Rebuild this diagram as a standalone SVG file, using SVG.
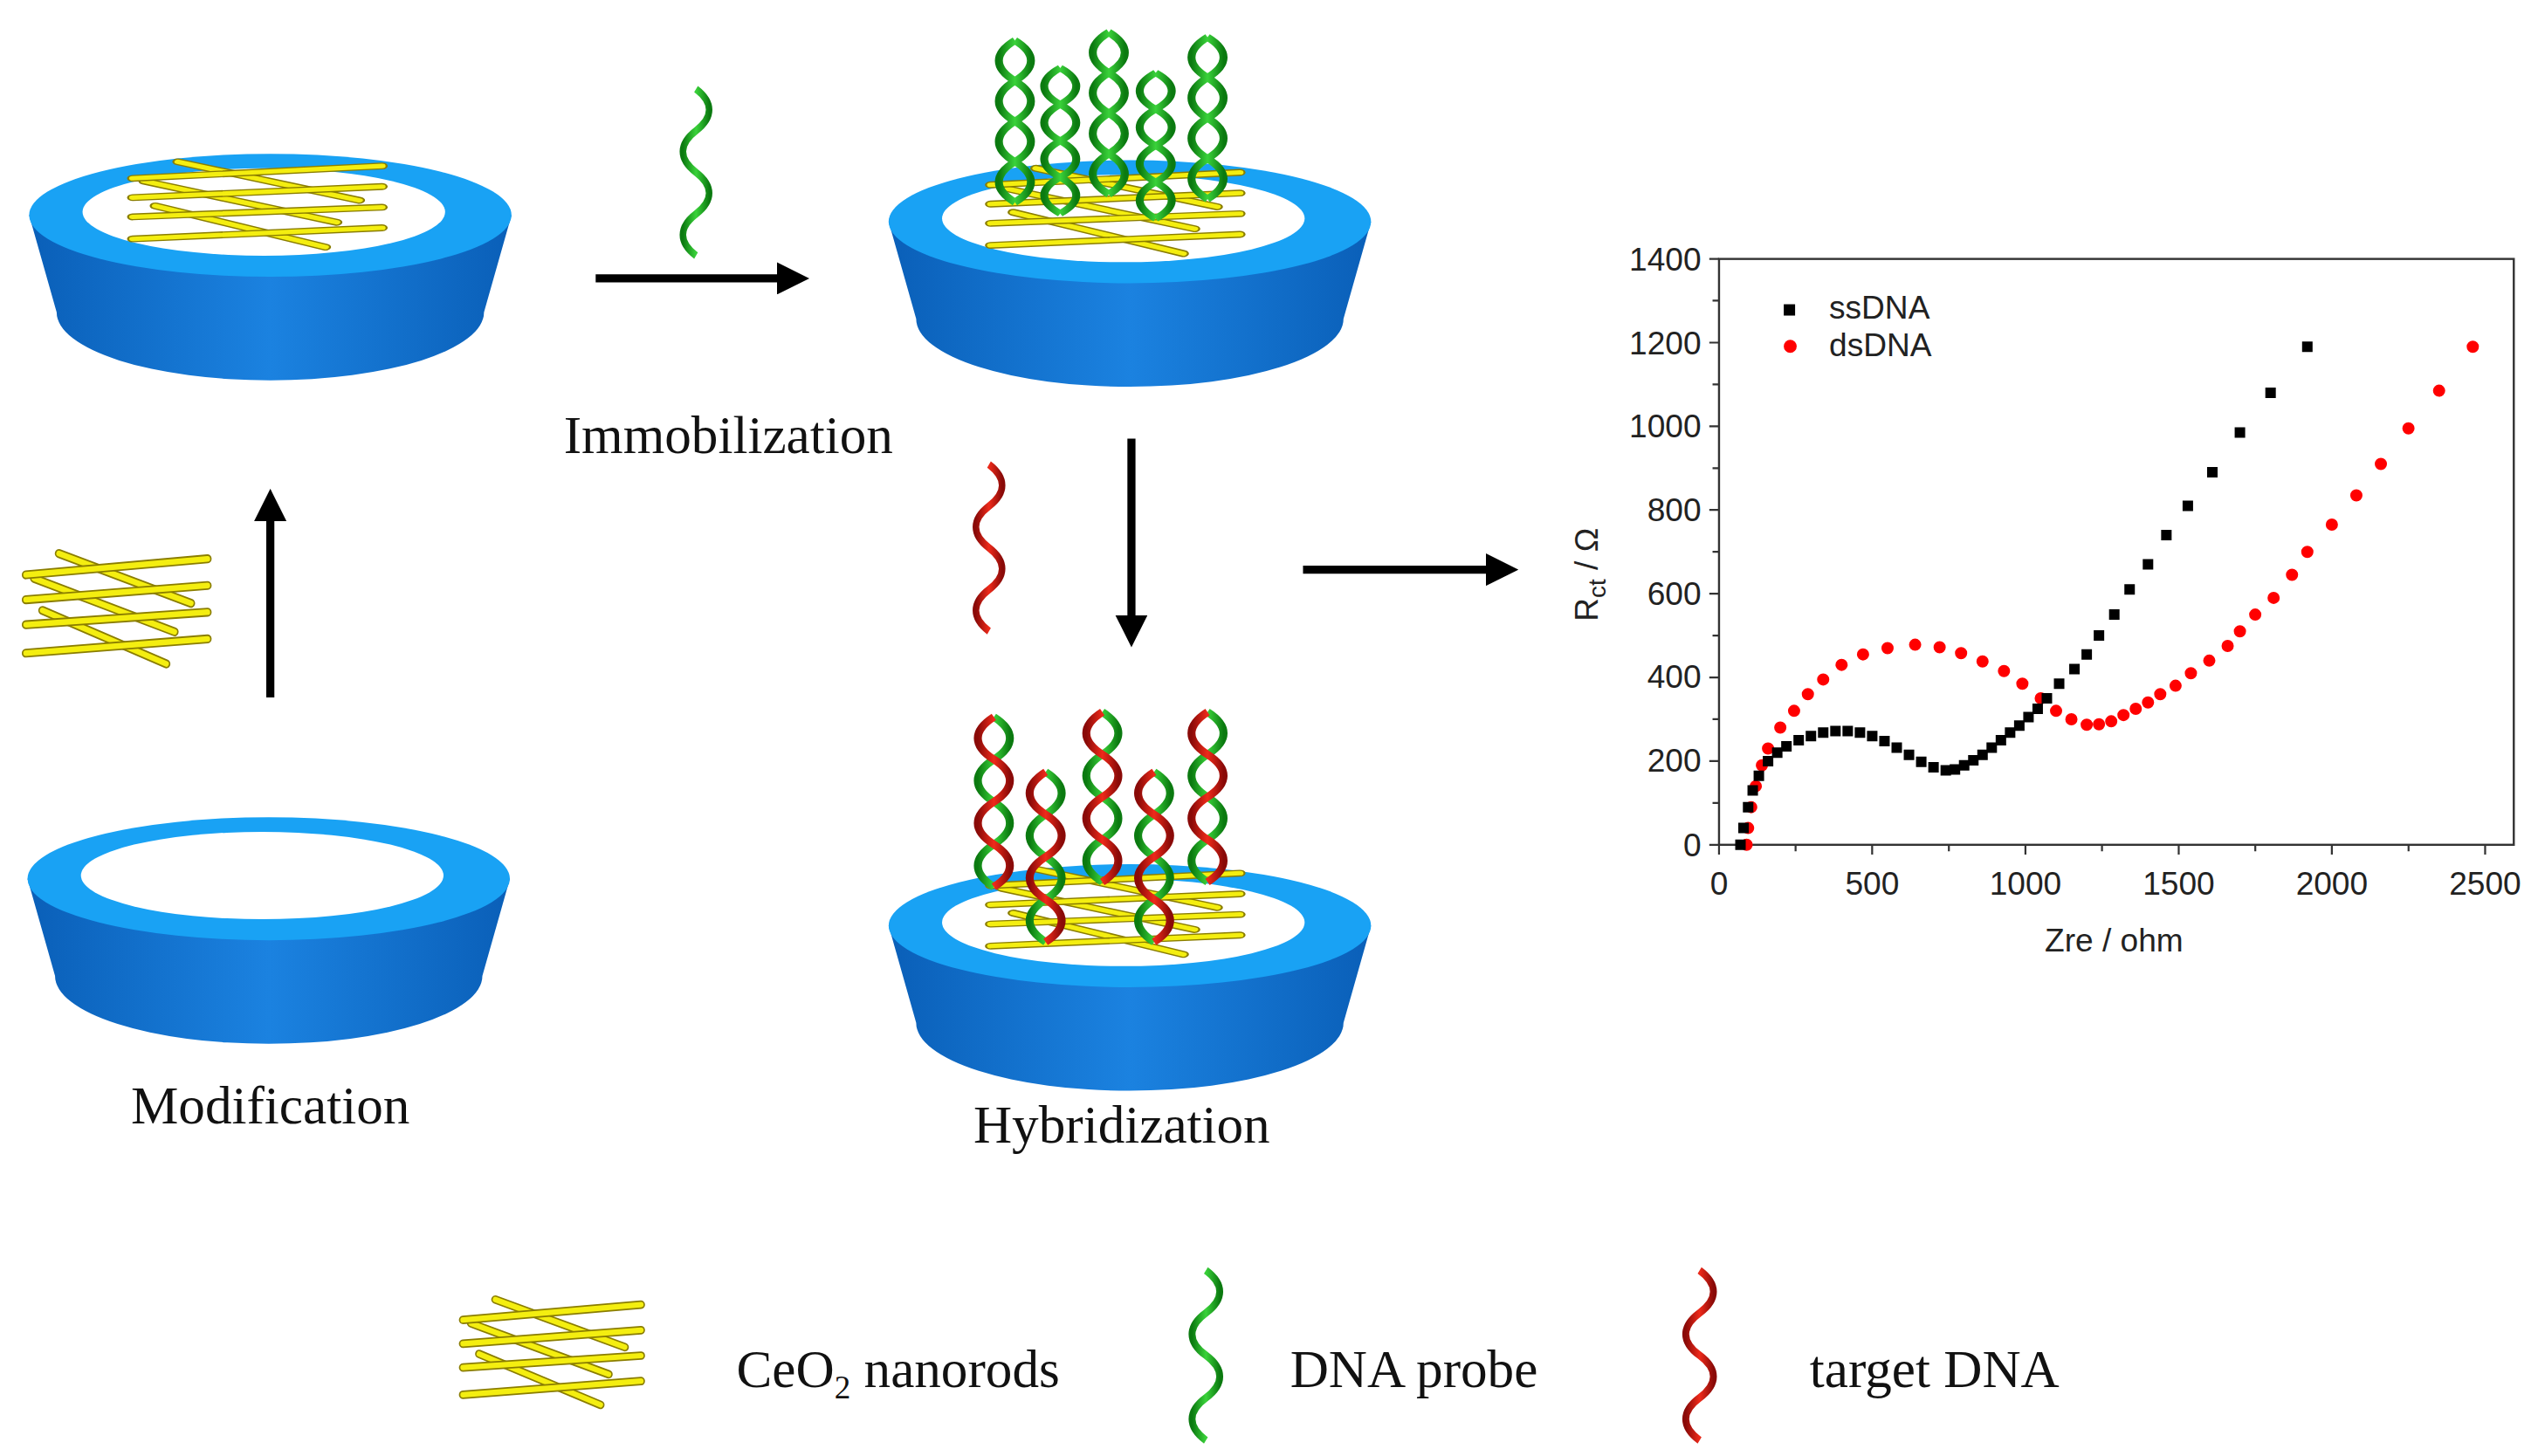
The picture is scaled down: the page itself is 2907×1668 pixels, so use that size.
<svg xmlns="http://www.w3.org/2000/svg" xmlns:xlink="http://www.w3.org/1999/xlink" width="2907" height="1668" viewBox="0 0 2907 1668">
<defs>
<style>
.lab{font-family:"Liberation Serif",serif;font-size:33px;fill:#111}
.ax{font-family:"Liberation Sans",Arial,sans-serif;font-size:20px;fill:#222}
.arrow{stroke:#000;stroke-width:5;fill:none}
.rod{stroke:#8a7d00;stroke-width:5;stroke-linecap:round}
.rodi{stroke:#f4ee10;stroke-width:3.2;stroke-linecap:round}
.g{fill:none;stroke:url(#gg);stroke-width:4.5}
.r{fill:none;stroke:url(#rg);stroke-width:4.5}
</style>
<linearGradient id="body" x1="0" x2="1" y1="0" y2="0">
<stop offset="0" stop-color="#0a5fb8"/><stop offset="0.5" stop-color="#1b82e0"/><stop offset="1" stop-color="#0a5fb8"/>
</linearGradient>
<linearGradient id="gg" x1="0" x2="1"><stop offset="0" stop-color="#0b7a10"/><stop offset="0.5" stop-color="#3ad23a"/><stop offset="1" stop-color="#0b7a10"/></linearGradient>
<linearGradient id="rg" x1="0" x2="1"><stop offset="0" stop-color="#8a0a08"/><stop offset="0.5" stop-color="#ee2a1a"/><stop offset="1" stop-color="#8a0a08"/></linearGradient>
<marker id="ah" markerWidth="4" markerHeight="4" refX="2" refY="2" orient="auto" markerUnits="strokeWidth"><path d="M0,0 L4,2 L0,4 Z" fill="#000"/></marker>
<g id="electrode">
<path d="M-149,0 L-132,60 A132,42 0 0 0 132,60 L149,0 Z" fill="url(#body)"/>
<ellipse cx="0" cy="0" rx="149" ry="38" fill="#19a2f4"/>
<ellipse cx="-4" cy="-2" rx="112" ry="27" fill="#fff"/>
</g>
<g id="rods">
<line class="rod" x1="20" y1="0" x2="100" y2="28"/><line class="rodi" x1="20" y1="0" x2="100" y2="28"/>
<line class="rod" x1="5" y1="14" x2="90" y2="44"/><line class="rodi" x1="5" y1="14" x2="90" y2="44"/>
<line class="rod" x1="10" y1="32" x2="85" y2="62"/><line class="rodi" x1="10" y1="32" x2="85" y2="62"/>
<line class="rod" x1="0" y1="12" x2="110" y2="3"/><line class="rodi" x1="0" y1="12" x2="110" y2="3"/>
<line class="rod" x1="0" y1="26" x2="110" y2="18"/><line class="rodi" x1="0" y1="26" x2="110" y2="18"/>
<line class="rod" x1="0" y1="40" x2="110" y2="33"/><line class="rodi" x1="0" y1="40" x2="110" y2="33"/>
<line class="rod" x1="0" y1="56" x2="110" y2="48"/><line class="rodi" x1="0" y1="56" x2="110" y2="48"/>
</g>
<path id="s1" d="M0,0 C12,8 12,17 0,25 C-12,33 -12,42 0,50 C12,58 12,67 0,75 C-12,83 -12,92 0,100"/>
<path id="s2" d="M0,0 C-12,8 -12,17 0,25 C12,33 12,42 0,50 C-12,58 -12,67 0,75 C12,83 12,92 0,100"/>
<g id="probe"><use xlink:href="#s1" class="g"/><use xlink:href="#s2" class="g"/></g>
<g id="hyb"><use xlink:href="#s1" class="g"/><use xlink:href="#s2" class="r"/></g>
</defs>
<rect width="2907" height="1668" fill="#fff"/>
<g transform="scale(1.854)">
<g id="electrode1"><use xlink:href="#electrode" x="167" y="133"/><use xlink:href="#rods" transform="translate(82,100) scale(1.4,0.85)"/></g>
<g id="electrode3"><use xlink:href="#electrode" x="166" y="543"/></g>
<g id="electrode2"><use xlink:href="#electrode" x="698" y="137"/><use xlink:href="#rods" transform="translate(612,104) scale(1.4,0.85)"/>
<use xlink:href="#probe" transform="translate(627,25) scale(1.1,1)"/>
<use xlink:href="#probe" transform="translate(655,42) scale(1.1,0.9)"/>
<use xlink:href="#probe" transform="translate(685,20) scale(1.1,1)"/>
<use xlink:href="#probe" transform="translate(714,45) scale(1.1,0.9)"/>
<use xlink:href="#probe" transform="translate(746,23) scale(1.1,1)"/>
</g>
<g id="electrode4"><use xlink:href="#electrode" x="698" y="572"/><use xlink:href="#rods" transform="translate(612,537) scale(1.4,0.85)"/>
<use xlink:href="#hyb" transform="translate(614,443) scale(1.1,1.05)"/>
<use xlink:href="#hyb" transform="translate(646,477) scale(1.1,1.05)"/>
<use xlink:href="#hyb" transform="translate(681,440) scale(1.1,1.05)"/>
<use xlink:href="#hyb" transform="translate(713,477) scale(1.1,1.05)"/>
<use xlink:href="#hyb" transform="translate(746,440) scale(1.1,1.05)"/>
</g>
<g id="freeRods"><use xlink:href="#rods" transform="translate(16,342) scale(1.02,1.1)"/></g>
<g id="freeProbe"><use xlink:href="#s1" class="g" transform="translate(430,55) scale(0.9,1.03)"/></g>
<g id="freeTarget"><use xlink:href="#s1" class="r" transform="translate(611,287) scale(0.9,1.03)"/></g>
<g id="connectors">
<line class="arrow" x1="368" y1="172" x2="490" y2="172" marker-end="url(#ah)"/>
<line class="arrow" x1="167" y1="431" x2="167" y2="312" marker-end="url(#ah)"/>
<line class="arrow" x1="699" y1="271" x2="699" y2="390" marker-end="url(#ah)"/>
<line class="arrow" x1="805" y1="352" x2="928" y2="352" marker-end="url(#ah)"/>
</g>
<text class="lab" x="450" y="280" text-anchor="middle">Immobilization</text>
<text class="lab" x="167" y="694" text-anchor="middle">Modification</text>
<text class="lab" x="693" y="706" text-anchor="middle">Hybridization</text>
<g id="legend">
<use xlink:href="#rods" transform="translate(286,803) scale(1,1.05)"/>
<text class="lab" x="455" y="857">CeO<tspan font-size="20" dy="7">2</tspan><tspan dy="-7"> nanorods</tspan></text>
<use xlink:href="#s1" class="g" transform="translate(745,785) scale(0.95,1.05)"/>
<text class="lab" x="797" y="857">DNA probe</text>
<use xlink:href="#s1" class="r" transform="translate(1050,785) scale(0.95,1.05)"/>
<text class="lab" x="1118" y="857">target DNA</text>
</g>
<g id="plot">
<rect x="1062" y="160" width="491" height="362" fill="none" stroke="#333" stroke-width="1.3"/>
<g stroke="#333" stroke-width="1.2">
<path d="M1062,522v6M1109.3,522v4M1156.6,522v6M1204,522v4M1251.3,522v6M1298.6,522v4M1346,522v6M1393.3,522v4M1440.6,522v6M1488,522v4M1535.3,522v6"/>
<path d="M1062,522h-6M1062,496.1h-4M1062,470.3h-6M1062,444.4h-4M1062,418.6h-6M1062,392.7h-4M1062,366.8h-6M1062,341h-4M1062,315.1h-6M1062,289.3h-4M1062,263.4h-6M1062,237.5h-4M1062,211.7h-6M1062,185.8h-4M1062,160h-6"/>
</g>
<g class="ax" text-anchor="end">
<text x="1051" y="529">0</text><text x="1051" y="477">200</text><text x="1051" y="425">400</text><text x="1051" y="374">600</text><text x="1051" y="322">800</text><text x="1051" y="270">1000</text><text x="1051" y="219">1200</text><text x="1051" y="167">1400</text>
</g>
<g class="ax" text-anchor="middle">
<text x="1062" y="553">0</text><text x="1156.6" y="553">500</text><text x="1251.3" y="553">1000</text><text x="1346" y="553">1500</text><text x="1440.6" y="553">2000</text><text x="1535.3" y="553">2500</text>
</g>
<text class="ax" x="1306" y="588" text-anchor="middle" font-size="21">Zre / ohm</text>
<text class="ax" transform="translate(987,355) rotate(-90)" text-anchor="middle" font-size="21">R<tspan font-size="15" dy="5">ct</tspan><tspan dy="-5"> / Ω</tspan></text>
<rect x="1102" y="188" width="7" height="7" fill="#000"/><text class="ax" x="1130" y="197" font-size="16">ssDNA</text>
<circle cx="1106" cy="214" r="4" fill="#f00"/><text class="ax" x="1130" y="220" font-size="16">dsDNA</text>
<g transform="translate(1062,522) scale(0.1893,-0.2586)">
<path fill="none" stroke="#f00" stroke-width="14" stroke-linecap="round" vector-effect="non-scaling-stroke" d="M90,0h0M95,40h0M105,90h0M120,140h0M140,190h0M160,230h0M200,280h0M245,320h0M290,360h0M340,395h0M400,430h0M470,455h0M550,470h0M640,478h0M720,472h0M790,458h0M860,438h0M930,415h0M990,385h0M1050,350h0M1100,320h0M1150,300h0M1200,287h0M1240,288h0M1280,295h0M1320,310h0M1360,325h0M1400,340h0M1440,360h0M1490,380h0M1540,410h0M1600,440h0M1660,475h0M1700,510h0M1750,550h0M1810,590h0M1870,645h0M1920,700h0M2000,765h0M2080,835h0M2160,910h0M2250,995h0M2350,1085h0M2460,1190h0"/>
<path fill="none" stroke="#000" stroke-width="12" stroke-linecap="square" vector-effect="non-scaling-stroke" d="M70,0h0M80,40h0M95,90h0M110,130h0M130,165h0M160,200h0M190,220h0M220,235h0M260,250h0M300,260h0M340,268h0M380,272h0M420,272h0M460,268h0M500,260h0M540,248h0M580,232h0M620,215h0M660,198h0M700,185h0M740,178h0M770,180h0M800,190h0M830,202h0M860,215h0M890,232h0M920,250h0M950,268h0M980,285h0M1010,305h0M1040,325h0M1070,350h0M1110,385h0M1160,420h0M1200,455h0M1240,500h0M1290,550h0M1340,610h0M1400,670h0M1460,740h0M1530,810h0M1610,890h0M1700,985h0M1800,1080h0M1920,1190h0"/>
</g>
</g>
</g>
</svg>
